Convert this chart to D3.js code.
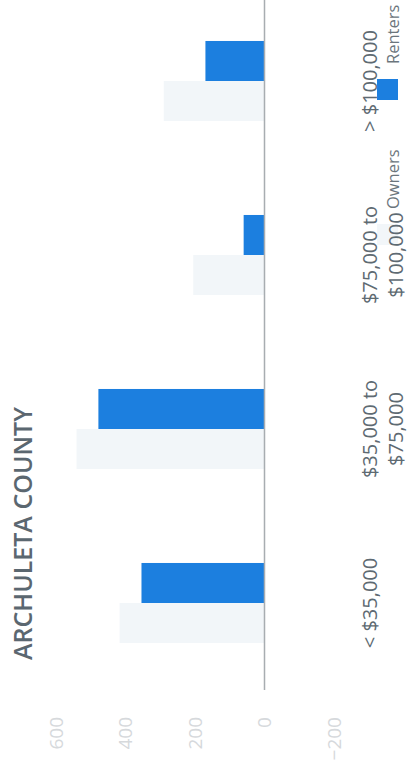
<!DOCTYPE html>
<html><head><meta charset="utf-8">
<script src="https://cdn.jsdelivr.net/npm/d3@7"></script>
<style>html,body{margin:0;padding:0;background:#fff;}svg{display:block;}</style>
</head><body>
<script>
const categories = [["< $35,000"], ["$35,000 to", "$75,000"], ["$75,000 to", "$100,000"], ["> $100,000"]];
const seriesNames = ["Owners", "Renters"];
const owners = [417, 541, 205, 290];
const renters = [354, 478, 60, 170];
const yTicks = [600, 400, 200, 0, -200];
const title = "ARCHULETA COUNTY";

const W = 408, H = 769;
const colors = {Owners: "#f2f6f9", Renters: "#1c7fdf"};
const svg = d3.select("body").append("svg").attr("width", W).attr("height", H);
// chart drawn in its own (landscape) frame, then rotated -90deg as in the scan
const g = svg.append("g").attr("transform", `translate(0,${H}) rotate(-90)`);

const keys = categories.map((c, i) => i);
const x0 = d3.scaleBand().domain(keys).range([79, 775]).paddingInner(0.54).paddingOuter(0.27);
const x1 = d3.scaleBand().domain(seriesNames).range([0, x0.bandwidth()]);
const y = d3.scaleLinear().domain([-200, 600]).range([334, 56]);

const data = keys.map(i => ({i, Owners: owners[i], Renters: renters[i]}));

const grp = g.selectAll(".grp").data(data).join("g").attr("transform", d => `translate(${x0(d.i)},0)`);
grp.selectAll("rect").data(d => seriesNames.map(s => ({s, v: d[s]}))).join("rect")
  .attr("x", d => x1(d.s)).attr("width", x1.bandwidth())
  .attr("y", d => y(Math.max(0, d.v))).attr("height", d => Math.abs(y(d.v) - y(0)))
  .attr("fill", d => colors[d.s]);

// zero baseline
g.append("line").attr("x1", 79).attr("x2", 800).attr("y1", y(0)).attr("y2", y(0))
  .attr("stroke", "#a8adb1").attr("stroke-width", 1.5);

// value axis labels
const yAxis = d3.axisLeft(y).tickValues(yTicks).tickSize(0).tickPadding(0);
const ya = g.append("g").attr("transform", "translate(52,0)").call(yAxis);
ya.select(".domain").remove();
ya.selectAll("text").attr("font-family", "Open Sans").attr("font-size", 19).attr("fill", "#d6d9dc");

// legend (drawn beneath the category labels)
const legendX = [524, 669];
const lg = g.selectAll(".leg").data(seriesNames).join("g")
  .attr("transform", (d, i) => `translate(${legendX[i]},377)`);
lg.append("rect").attr("width", 21).attr("height", 21).attr("fill", d => colors[d]);
lg.append("text").attr("x", 36).attr("y", 22).text(d => d)
  .attr("font-family", "Open Sans").attr("font-size", 16.5).attr("fill", "#6b757c");

// category labels
const cl = g.selectAll(".cat").data(categories).join("text")
  .attr("x", (d, i) => x0(i) + x0.bandwidth() / 2).attr("y", 377)
  .attr("text-anchor", "middle").attr("font-family", "Open Sans").attr("font-size", 20)
  .attr("fill", "#5e6a72");
cl.selectAll("tspan").data(d => d).join("tspan")
  .attr("x", function() { return this.parentNode.getAttribute("x"); })
  .attr("dy", (d, j) => j === 0 ? 0 : 26).text(d => d);

// title
g.append("text").attr("x", 109).attr("y", 32).text(title)
  .attr("font-family", "Open Sans").attr("font-weight", 600).attr("font-size", 25)
  .attr("fill", "#5b6770");
</script>
</body></html>
